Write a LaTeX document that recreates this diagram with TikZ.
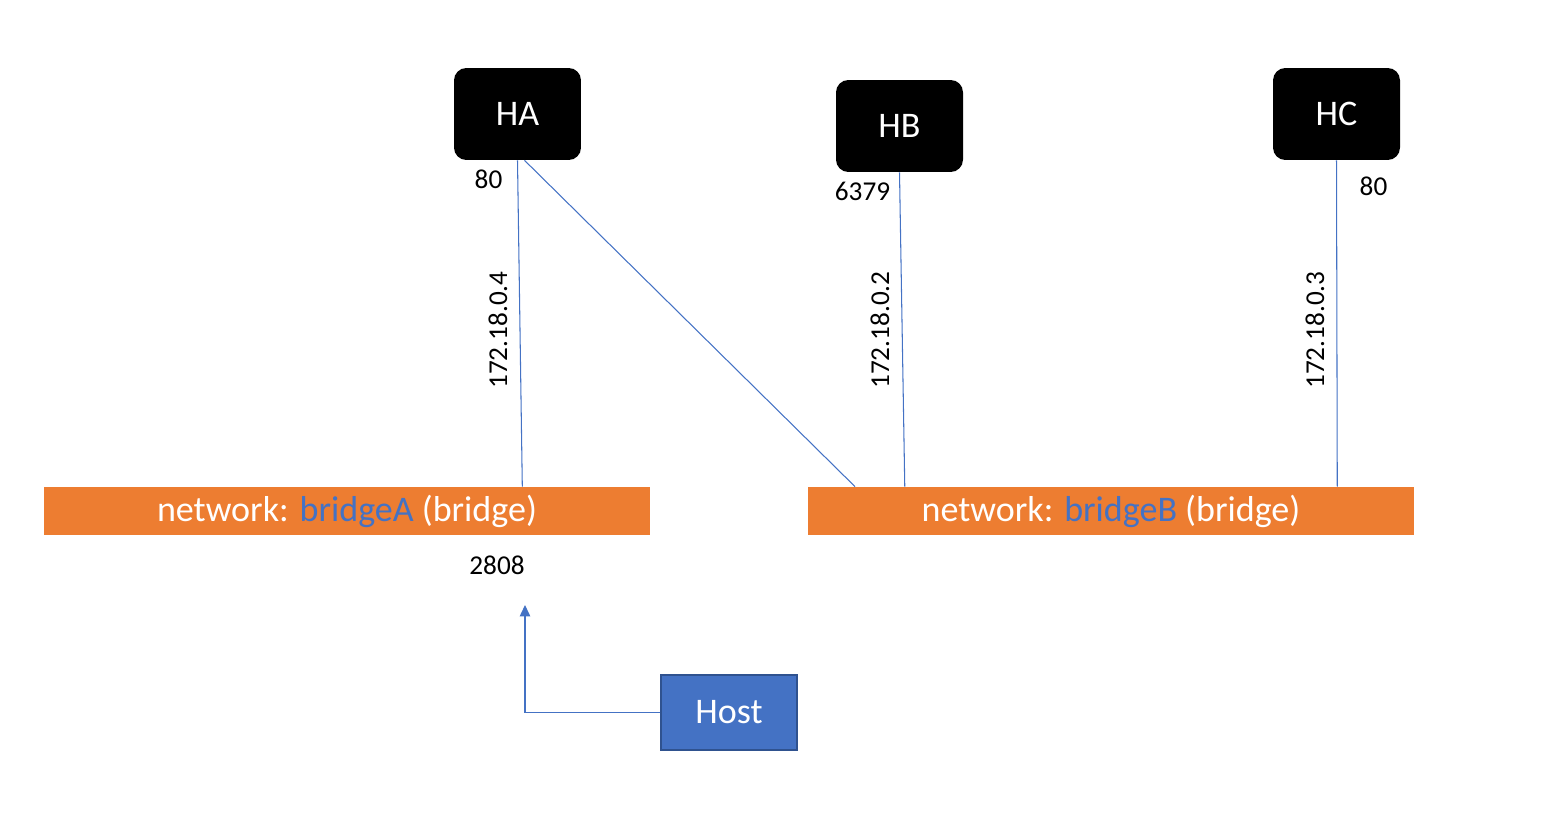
\documentclass[tikz,border=0pt]{standalone}
\usepackage{fontspec}
\setmainfont{Carlito}
\usepackage{tikz}
\usetikzlibrary{positioning, calc, arrows.meta, shapes}

\definecolor{netorange}{HTML}{ED7D31}
\definecolor{netblue}{HTML}{4472C4}
\definecolor{hostedge}{HTML}{2F528F}

\tikzset{
  container/.style={rectangle, rounded corners=7pt, fill=black, text=white,
    minimum width=2.54cm, minimum height=1.84cm, font=\fontsize{20.5}{24}\selectfont},
  network/.style={rectangle, fill=netorange, text=white, inner sep=0pt,
    minimum width=12.12cm, minimum height=0.96cm, font=\fontsize{20.5}{24}\selectfont},
  hostbox/.style={rectangle, fill=netblue, draw=hostedge, line width=0.8pt, text=white,
    minimum width=2.72cm, minimum height=1.5cm, font=\fontsize{20.5}{24}\selectfont},
  port/.style={font=\fontsize{15.5}{18}\selectfont, inner sep=0pt},
  link/.style={draw=netblue, line width=0.6pt},
}

\begin{document}
\begin{tikzpicture}[x=0.02cm, y=-0.02cm]

      \useasboundingbox (0,0) rectangle (1567,820);

      % CONTAINERS AND NETWORKS

      \node[container] (HA) at (517.5,114) {HA};
      \node[container] (HB) at (899.5,126) {HB};
      \node[container] (HC) at (1336.5,114) {HC};

      \node[network] (bridgeA) at (347,511) {network: \textcolor{netblue}{bridgeA} (bridge)};
      \node[network] (bridgeB) at (1111,511) {network: \textcolor{netblue}{bridgeB} (bridge)};

      \node[hostbox] (Host) at (729,712.5) {Host};

      % LABELS

      \node[port] (haPort) at ($(HA.south)+(-29,19)$) {80};
      \node[port] (hbPort) at ($(HB.south)+(-37,19)$) {6379};
      \node[port] (hcPort) at ($(HC.south)+(37,26)$) {80};
      \node[port] (hostPort) at ($(bridgeA.south)+(150,30)$) {2808};

      \node[port, rotate=90] (haIp) at (498,330) {172.18.0.4};
      \node[port, rotate=90] (hbIp) at (880,330) {172.18.0.2};
      \node[port, rotate=90] (hcIp) at (1315,330) {172.18.0.3};

      % ARCS

      \draw[link] (HA.south) -- ($(bridgeA.north west)!0.789!(bridgeA.north east)$);
      \draw[link] ($(HA.south)+(7,0)$) -- ($(bridgeB.north west)!0.078!(bridgeB.north east)$);
      \draw[link] (HB.south) -- ($(bridgeB.north west)!0.160!(bridgeB.north east)$);
      \draw[link] (HC.south) -- ($(bridgeB.north west)!0.873!(bridgeB.north east)$);

      \coordinate (hostIn) at (525,605);
      \draw[link, -{Triangle[width=6pt,length=6.5pt]}] (Host.west) -| (hostIn);

    \end{tikzpicture}
\end{document}
